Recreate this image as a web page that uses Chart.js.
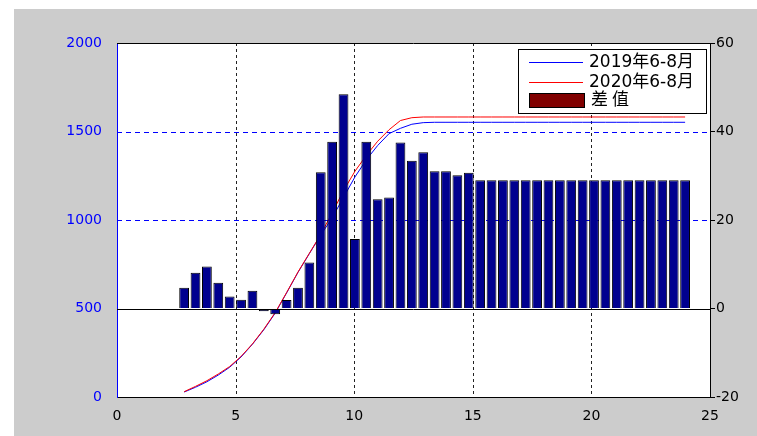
<!DOCTYPE html>
<html>
<head>
<meta charset="utf-8">
<script src="https://cdn.jsdelivr.net/npm/chart.js@4/dist/chart.umd.min.js"></script>
<style>
html,body{margin:0;padding:0;background:#fff;}
#wrap{width:757px;height:436px;position:relative;}
</style>
</head>
<body>
<div id="wrap"><canvas id="c" width="757" height="436"></canvas></div>
<script>
// ---- data ----
const xPositions = [2.83, 3.31, 3.79, 4.27, 4.75, 5.23, 5.71, 6.19, 6.67, 7.15,
  7.63, 8.11, 8.59, 9.07, 9.55, 10.03, 10.51, 10.99, 11.47, 11.95,
  12.43, 12.91, 13.39, 13.87, 14.35, 14.83, 15.31, 15.79, 16.27, 16.75,
  17.23, 17.71, 18.19, 18.67, 19.15, 19.63, 20.11, 20.59, 21.07, 21.55,
  22.03, 22.51, 22.99, 23.47, 23.95];
const diffValues = [4.7, 8.1, 9.5, 5.8, 2.7, 2.0, 4.0, -0.6, -1.3, 1.9,
  4.7, 10.4, 30.8, 37.7, 48.4, 15.7, 37.7, 24.7, 25.1, 37.5,
  33.4, 35.3, 31.0, 31.0, 30.1, 30.7, 29.0, 29.0, 29.0, 29.0,
  29.0, 29.0, 29.0, 29.0, 29.0, 29.0, 29.0, 29.0, 29.0, 29.0,
  29.0, 29.0, 29.0, 29.0, 29.0];
const series2019 = [28, 55, 86, 124, 168, 226, 298, 380, 474, 588,
  704, 810, 915, 1012, 1128, 1243, 1340, 1421, 1488, 1518,
  1541, 1550, 1552, 1552, 1552, 1552, 1552, 1552, 1552, 1552,
  1552, 1552, 1552, 1552, 1552, 1552, 1552, 1552, 1552, 1552,
  1552, 1552, 1552, 1552, 1552];
const series2020 = [30, 60, 92, 130, 172, 229, 300, 383, 477, 590,
  706, 812, 918, 1040, 1166, 1275, 1365, 1445, 1510, 1562,
  1578, 1582, 1582, 1582, 1582, 1582, 1582, 1582, 1582, 1582,
  1582, 1582, 1582, 1582, 1582, 1582, 1582, 1582, 1582, 1582,
  1582, 1582, 1582, 1582, 1582];
const seriesNames = ['2019年6-8月', '2020年6-8月', '差值'];
const xTicks = [0, 5, 10, 15, 20, 25];
const leftTicks = [0, 500, 1000, 1500, 2000];
const rightTicks = [-20, 0, 20, 40, 60];
const leftGridValues = [1000, 1500];
const xGridValues = [5, 10, 15, 20];

const tickFont = {family: '"DejaVu Sans", sans-serif', size: 14};

const bgPlugin = {
  id: 'bg',
  beforeDraw(chart) {
    const ctx = chart.ctx, a = chart.chartArea;
    ctx.save();
    ctx.fillStyle = '#ffffff';
    ctx.fillRect(0, 0, chart.width, chart.height);
    ctx.fillStyle = '#cccccc';
    ctx.fillRect(14, 9, chart.width - 14, chart.height - 9);
    ctx.fillStyle = '#ffffff';
    ctx.fillRect(a.left, a.top, a.right - a.left, a.bottom - a.top);
    ctx.restore();
  },
  beforeDatasetsDraw(chart) {
    const ctx = chart.ctx, a = chart.chartArea;
    const xs = chart.scales.x, ys = chart.scales.y;
    ctx.save();
    ctx.lineWidth = 1;
    ctx.strokeStyle = '#222222';
    ctx.setLineDash([3, 3]);
    xGridValues.forEach(v => {
      const px = Math.round(xs.getPixelForValue(v)) + 0.5;
      ctx.beginPath(); ctx.moveTo(px, a.top); ctx.lineTo(px, a.bottom); ctx.stroke();
    });
    ctx.strokeStyle = '#0000ff';
    ctx.setLineDash([5, 4]);
    leftGridValues.forEach(v => {
      const py = Math.round(ys.getPixelForValue(v)) + 0.5;
      ctx.beginPath(); ctx.moveTo(a.left, py); ctx.lineTo(a.right, py); ctx.stroke();
    });
    ctx.restore();
  },
  afterDatasetsDraw(chart) {
    const ctx = chart.ctx, a = chart.chartArea;
    const y0 = Math.round(chart.scales.y1.getPixelForValue(0)) + 0.5;
    ctx.save();
    ctx.strokeStyle = '#000';
    ctx.lineWidth = 1;
    ctx.setLineDash([]);
    ctx.beginPath();
    ctx.moveTo(a.left, y0); ctx.lineTo(a.right, y0);
    ctx.moveTo(a.left, Math.round(a.top) + 0.5); ctx.lineTo(a.right, Math.round(a.top) + 0.5);
    ctx.stroke();
    ctx.restore();
  },
  afterDraw(chart) {
    const ctx = chart.ctx;
    const bx = 518.5, by = 49.5, bw = 188, bh = 64;
    ctx.save();
    ctx.setLineDash([]);
    ctx.fillStyle = '#fff';
    ctx.fillRect(bx, by, bw, bh);
    ctx.strokeStyle = '#000';
    ctx.lineWidth = 1;
    ctx.strokeRect(bx, by, bw, bh);
    ctx.strokeStyle = '#0000ff';
    ctx.beginPath(); ctx.moveTo(529, 62.5); ctx.lineTo(583, 62.5); ctx.stroke();
    ctx.strokeStyle = '#ff0000';
    ctx.beginPath(); ctx.moveTo(529, 82.5); ctx.lineTo(583, 82.5); ctx.stroke();
    ctx.fillStyle = '#800000';
    ctx.fillRect(529, 93, 56, 15);
    ctx.strokeStyle = '#000';
    ctx.strokeRect(529.5, 93.5, 55, 14);
    ctx.fillStyle = '#000';
    ctx.font = '17px "DejaVu Sans", "Noto Sans CJK SC", sans-serif';
    ctx.textBaseline = 'middle';
    ctx.textAlign = 'left';
    ctx.fillText(seriesNames[0], 589, 63);
    ctx.fillText(seriesNames[1], 589, 83);
    if ('letterSpacing' in ctx) ctx.letterSpacing = '4px';
    ctx.fillText(seriesNames[2], 591, 101);
    ctx.restore();
  }
};

const barData = xPositions.map((x, i) => ({x: x, y: diffValues[i]}));
const line19 = xPositions.map((x, i) => ({x: x, y: series2019[i]}));
const line20 = xPositions.map((x, i) => ({x: x, y: series2020[i]}));

new Chart(document.getElementById('c'), {
  type: 'bar',
  data: {
    datasets: [
      {label: seriesNames[2], data: barData, yAxisID: 'y1', order: 0,
       backgroundColor: '#00008f', borderColor: '#000', borderWidth: 1,
       barPercentage: 0.86, categoryPercentage: 1.0, grouped: false},
      {type: 'line', label: seriesNames[0], data: line19, yAxisID: 'y', order: 2,
       borderColor: '#0000ff', borderWidth: 1, pointRadius: 0, tension: 0, fill: false},
      {type: 'line', label: seriesNames[1], data: line20, yAxisID: 'y', order: 1,
       borderColor: '#ff0000', borderWidth: 1, pointRadius: 0, tension: 0, fill: false}
    ]
  },
  options: {
    responsive: false,
    animation: false,
    events: [],
    layout: {padding: {top: 43, left: 0, right: 0, bottom: 0}},
    plugins: {legend: {display: false}, tooltip: {enabled: false}, title: {display: false}},
    scales: {
      x: {
        type: 'linear', position: 'bottom', min: 0, max: 25, offset: false,
        afterBuildTicks: s => { s.ticks = xTicks.map(v => ({value: v})); },
        afterFit: s => { s.height = 39; },
        ticks: {color: '#000', font: tickFont, padding: 3, maxRotation: 0, autoSkip: false,
                callback: v => String(v)},
        grid: {display: false},
        border: {display: true, color: '#000', width: 1}
      },
      y: {
        type: 'linear', position: 'left', min: 0, max: 2000,
        afterBuildTicks: s => { s.ticks = leftTicks.map(v => ({value: v})); },
        afterFit: s => { s.width = 117; },
        ticks: {color: '#0000ff', font: tickFont, padding: 7, callback: v => String(v)},
        grid: {display: false},
        border: {display: true, color: '#0000ff', width: 1}
      },
      y1: {
        type: 'linear', position: 'right', min: -20, max: 60,
        afterBuildTicks: s => { s.ticks = rightTicks.map(v => ({value: v})); },
        afterFit: s => { s.width = 47; },
        ticks: {color: '#000', font: tickFont, padding: 1, callback: v => String(v)},
        grid: {display: true, offset: false, drawOnChartArea: false, drawTicks: true, tickLength: 5, color: '#000', lineWidth: 1},
        border: {display: true, color: '#000', width: 1}
      }
    }
  },
  plugins: [bgPlugin]
});
</script>
</body>
</html>
